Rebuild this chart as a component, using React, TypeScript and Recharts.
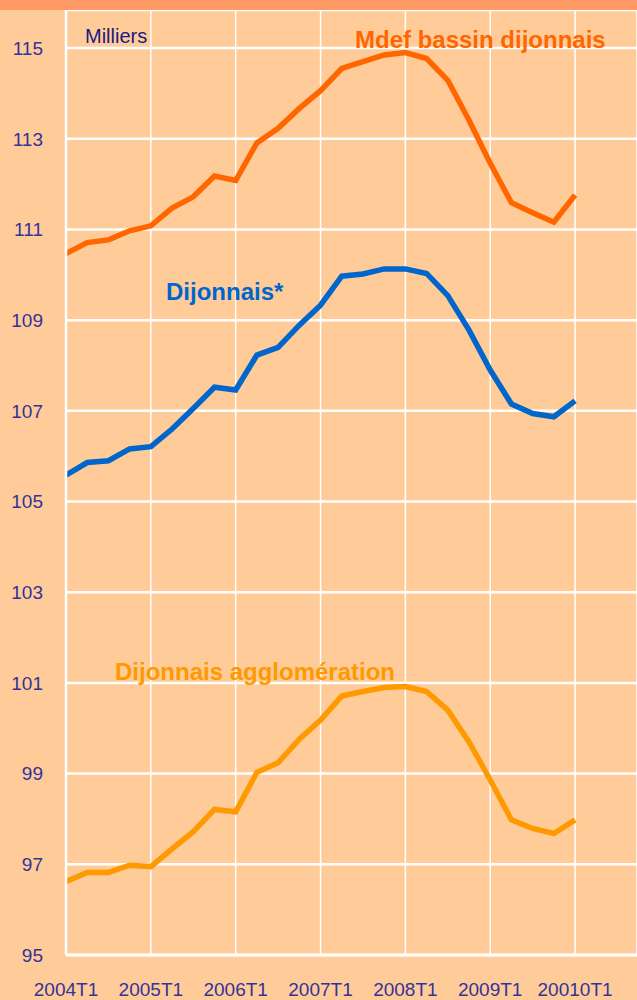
import React from "react";
import { LineChart, Line, XAxis, YAxis, CartesianGrid } from "recharts";

// quarters 2004T1 .. 2010T1
const quarters = Array.from({ length: 25 }, (_, i) => `${2004 + Math.floor(i / 4)}T${(i % 4) + 1}`);

const mdefBassin = [
  110.47, 110.71, 110.77, 110.97, 111.08, 111.47, 111.72, 112.18, 112.08, 112.91,
  113.23, 113.67, 114.06, 114.55, 114.7, 114.85, 114.9, 114.77, 114.29, 113.41,
  112.46, 111.59, 111.37, 111.16, 111.76,
];
const dijonnais = [
  105.58, 105.86, 105.9, 106.16, 106.21, 106.6, 107.05, 107.52, 107.46, 108.23,
  108.4, 108.89, 109.33, 109.97, 110.02, 110.13, 110.13, 110.03, 109.54, 108.78,
  107.9, 107.15, 106.94, 106.87, 107.22,
];
const agglomeration = [
  96.62, 96.82, 96.82, 96.98, 96.95, 97.34, 97.72, 98.21, 98.16, 99.03,
  99.24, 99.76, 100.18, 100.71, 100.81, 100.9, 100.92, 100.81, 100.4, 99.7,
  98.86, 97.98, 97.79, 97.68, 97.98,
];

const yearLabels = ["2004T1", "2005T1", "2006T1", "2007T1", "2008T1", "2009T1", "20010T1"];
const yTicks = [95, 97, 99, 101, 103, 105, 107, 109, 111, 113, 115];

const data = quarters.map((q, i) => ({
  q: i,
  label: q,
  mdef: mdefBassin[i],
  dij: dijonnais[i],
  agglo: agglomeration[i],
}));

const font = "'Liberation Sans', Arial, sans-serif";
const tickStyle = { fill: "#333399", fontSize: 19, fontFamily: font };

export default function App() {
  return (
    <div
      style={{
        position: "absolute",
        left: 0,
        top: 0,
        width: 637,
        height: 1000,
        background: "#FFCC99",
        overflow: "hidden",
        fontFamily: font,
      }}
    >
      <LineChart
        width={637}
        height={1000}
        data={data}
        margin={{ top: 10, right: 0, bottom: 0, left: 0 }}
      >
        <CartesianGrid horizontal={true} vertical={false} stroke="#ffffff" strokeWidth={2.5} />
        <CartesianGrid horizontal={false} vertical={true} stroke="#ffffff" strokeWidth={1.5} />
        <XAxis
          dataKey="q"
          type="number"
          domain={[0, 26.92]}
          ticks={[0, 4, 8, 12, 16, 20, 24]}
          tickFormatter={(v: number) => yearLabels[Math.round(v / 4)]}
          allowDataOverflow
          height={45}
          axisLine={{ stroke: "#ffffff", strokeWidth: 3 }}
          tickLine={false}
          tickSize={0}
          tickMargin={28}
          tick={tickStyle}
          interval={0}
        />
        <YAxis
          type="number"
          domain={[95, 115.84]}
          ticks={yTicks}
          allowDataOverflow
          width={66}
          axisLine={{ stroke: "#ffffff", strokeWidth: 2.5 }}
          tickLine={false}
          tickSize={0}
          tickMargin={23}
          tick={tickStyle}
          interval={0}
        />
        <Line type="linear" dataKey="mdef" stroke="#FF6600" strokeWidth={5.5} dot={false} isAnimationActive={false} />
        <Line type="linear" dataKey="dij" stroke="#0066CC" strokeWidth={5.5} dot={false} isAnimationActive={false} />
        <Line type="linear" dataKey="agglo" stroke="#FF9900" strokeWidth={5.5} dot={false} isAnimationActive={false} />
      </LineChart>

      <div style={{ position: "absolute", left: 0, top: 0, width: 637, height: 10, background: "#FF9966" }} />

      <div style={{ position: "absolute", left: 85, top: 26, fontSize: 20, lineHeight: 1, color: "#1A1A80", whiteSpace: "nowrap" }}>
        Milliers
      </div>
      <div style={{ position: "absolute", left: 355, top: 27.5, fontSize: 24, lineHeight: 1, fontWeight: "bold", color: "#FF6600", whiteSpace: "nowrap" }}>
        Mdef bassin dijonnais
      </div>
      <div style={{ position: "absolute", left: 166, top: 279.5, fontSize: 24, lineHeight: 1, fontWeight: "bold", color: "#0066CC", whiteSpace: "nowrap" }}>
        Dijonnais*
      </div>
      <div style={{ position: "absolute", left: 115, top: 659.5, fontSize: 24, lineHeight: 1, fontWeight: "bold", color: "#FF9900", whiteSpace: "nowrap" }}>
        Dijonnais agglomération
      </div>
    </div>
  );
}
